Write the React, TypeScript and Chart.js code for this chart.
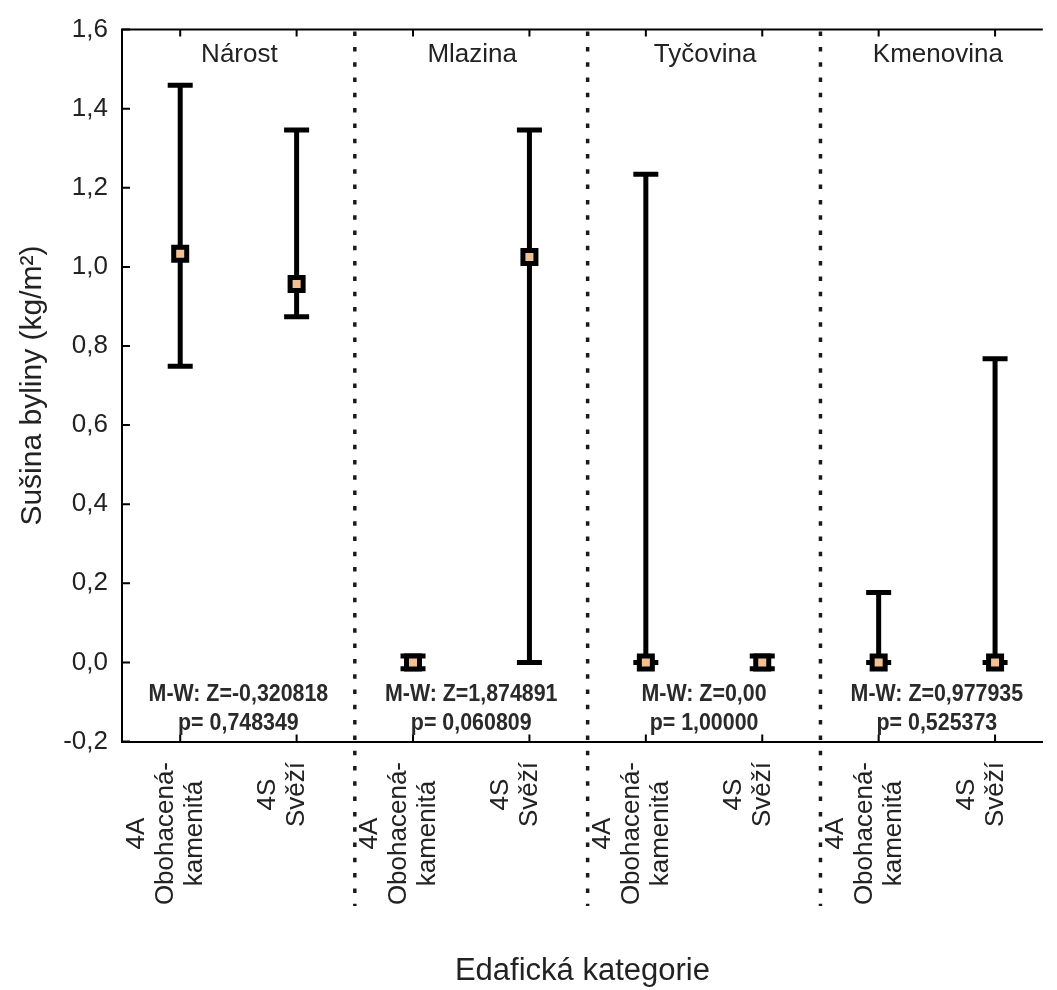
import React, { useEffect, useRef } from 'react';
import { Chart, registerables } from 'chart.js';

Chart.register(...registerables);

const FONT = '"Liberation Sans", Arial, Helvetica, sans-serif';
const TEXT = '#222222';

const groups = ['Nárost', 'Mlazina', 'Tyčovina', 'Kmenovina'];
const categoryLabels: string[][] = [
  ['4A', 'Obohacená-', 'kamenitá'], ['4S', 'Svěží'],
  ['4A', 'Obohacená-', 'kamenitá'], ['4S', 'Svěží'],
  ['4A', 'Obohacená-', 'kamenitá'], ['4S', 'Svěží'],
  ['4A', 'Obohacená-', 'kamenitá'], ['4S', 'Svěží'],
];
const means = [1.033, 0.957, 0.0, 1.025, 0.0, 0.0, 0.0, 0.0];
const upper = [1.459, 1.346, 0.016, 1.346, 1.234, 0.016, 0.177, 0.768];
const lower = [0.749, 0.874, -0.016, 0.0, 0.0, -0.016, 0.0, 0.0];
const mwZ = ['M-W: Z=-0,320818', 'M-W: Z=1,874891', 'M-W: Z=0,00', 'M-W: Z=0,977935'];
const mwP = ['p= 0,748349', 'p= 0,060809', 'p= 1,00000', 'p= 0,525373'];
const yTicks = [-0.2, 0, 0.2, 0.4, 0.6, 0.8, 1.0, 1.2, 1.4, 1.6];
const separators = [1.5, 3.5, 5.5];

const overlay = {
  id: 'overlay',
  beforeDatasetsDraw(chart: any) {
    const { ctx, chartArea: ca, scales } = chart;
    const x = scales.x;
    const y = scales.y;
    ctx.save();
    // top border
    ctx.strokeStyle = '#000';
    ctx.lineWidth = 2;
    ctx.beginPath();
    ctx.moveTo(ca.left - 1, ca.top);
    ctx.lineTo(ca.right, ca.top);
    ctx.stroke();
    // inward ticks
    ctx.beginPath();
    categoryLabels.forEach((_, i) => {
      const px = x.getPixelForValue(i);
      ctx.moveTo(px, ca.top);
      ctx.lineTo(px, ca.top + 7);
      ctx.moveTo(px, ca.bottom);
      ctx.lineTo(px, ca.bottom - 7);
    });
    yTicks.forEach((v) => {
      const py = y.getPixelForValue(v);
      ctx.moveTo(ca.left, py);
      ctx.lineTo(ca.left + 8, py);
    });
    ctx.stroke();

    // dotted separators
    ctx.save();
    ctx.strokeStyle = '#1a1a1a';
    ctx.lineWidth = 3.5;
    ctx.setLineDash([4.5, 10.8]);
    separators.forEach((s) => {
      const px = x.getPixelForValue(s);
      ctx.beginPath();
      ctx.moveTo(px, ca.top + 2);
      ctx.lineTo(px, 906);
      ctx.stroke();
    });
    ctx.restore();

    // error bars
    ctx.strokeStyle = '#000';
    ctx.lineWidth = 5;
    ctx.lineCap = 'butt';
    means.forEach((_, i) => {
      const px = x.getPixelForValue(i);
      const pu = y.getPixelForValue(upper[i]);
      const pl = y.getPixelForValue(lower[i]);
      ctx.beginPath();
      ctx.moveTo(px, pu);
      ctx.lineTo(px, pl);
      ctx.moveTo(px - 12.5, pu);
      ctx.lineTo(px + 12.5, pu);
      ctx.moveTo(px - 12.5, pl);
      ctx.lineTo(px + 12.5, pl);
      ctx.stroke();
    });

    // panel titles
    ctx.fillStyle = TEXT;
    ctx.textAlign = 'center';
    ctx.textBaseline = 'middle';
    ctx.font = `26px ${FONT}`;
    groups.forEach((g, k) => {
      const px = x.getPixelForValue(2 * k + 0.5);
      ctx.fillText(g, px + 1, 55);
    });

    // M-W annotations
    groups.forEach((_, k) => {
      const px = x.getPixelForValue(2 * k + 0.5);
      ctx.save();
      ctx.translate(px, 0);
      ctx.scale(0.93, 1);
      ctx.font = `bold 23px ${FONT}`;
      ctx.fillStyle = '#2a2a2a';
      ctx.fillText(mwZ[k], 0, 695);
      ctx.fillText(mwP[k], 0, 724);
      ctx.restore();
    });

    // category labels (rotated)
    ctx.font = `26px ${FONT}`;
    ctx.fillStyle = TEXT;
    const lh = 29;
    categoryLabels.forEach((lines, i) => {
      const px = x.getPixelForValue(i) - 14;
      const maxW = Math.max(...lines.map((l) => ctx.measureText(l).width));
      const cy = ca.bottom + 20.5 + maxW / 2;
      lines.forEach((line, j) => {
        const lx = px + (j - (lines.length - 1) / 2) * lh;
        ctx.save();
        ctx.translate(lx, cy);
        ctx.rotate(-Math.PI / 2);
        ctx.textAlign = 'center';
        ctx.textBaseline = 'middle';
        ctx.fillText(line, 0, 0);
        ctx.restore();
      });
    });
    ctx.restore();
  },
};

export default function App() {
  const ref = useRef<HTMLCanvasElement | null>(null);
  useEffect(() => {
    if (!ref.current) return;
    const chart = new Chart(ref.current, {
      type: 'scatter',
      data: {
        datasets: [
          {
            data: means.map((m, i) => ({ x: i, y: m })),
            pointStyle: 'rect',
            pointRadius: 9.2,
            pointHoverRadius: 9.2,
            pointBackgroundColor: '#F1C194',
            pointBorderColor: '#000',
            pointBorderWidth: 5,
            showLine: false,
          },
        ],
      },
      options: {
        animation: false,
        responsive: false,
        devicePixelRatio: 1,
        layout: { padding: { top: 26.5, left: 0, right: 0, bottom: 0 } },
        plugins: { legend: { display: false }, tooltip: { enabled: false } },
        scales: {
          x: {
            type: 'linear',
            position: 'bottom',
            min: -0.5,
            max: 7.41,
            grid: { display: false, drawTicks: false },
            border: { display: true, color: '#000', width: 2 },
            ticks: { display: false },
            title: {
              display: true,
              text: 'Edafická kategorie',
              color: TEXT,
              font: { family: FONT, size: 31 },
              padding: { top: 0, bottom: 0 },
            },
            afterFit: (s: any) => {
              s.height = 248.5;
            },
          },
          y: {
            type: 'linear',
            min: -0.2,
            max: 1.6,
            grid: { display: false, drawTicks: false },
            border: { display: true, color: '#000', width: 2 },
            afterBuildTicks: (s: any) => {
              s.ticks = yTicks.map((v) => ({ value: v }));
            },
            ticks: {
              color: TEXT,
              padding: 14,
              font: { family: FONT, size: 26 },
              callback: (v: any) => Number(v).toFixed(1).replace('.', ','),
            },
            title: {
              display: true,
              text: 'Sušina byliny (kg/m²)',
              color: TEXT,
              font: { family: FONT, size: 30 },
              padding: { top: 15, bottom: 0 },
            },
            afterFit: (s: any) => {
              s.width = 122;
            },
          },
        },
      },
      plugins: [overlay],
    });
    return () => chart.destroy();
  }, []);
  return (
    <div style={{ position: 'absolute', left: 0, top: 0, width: 1057, height: 990, background: '#fff' }}>
      <canvas ref={ref} width={1057} height={990} style={{ width: 1057, height: 990, display: 'block' }} />
    </div>
  );
}
